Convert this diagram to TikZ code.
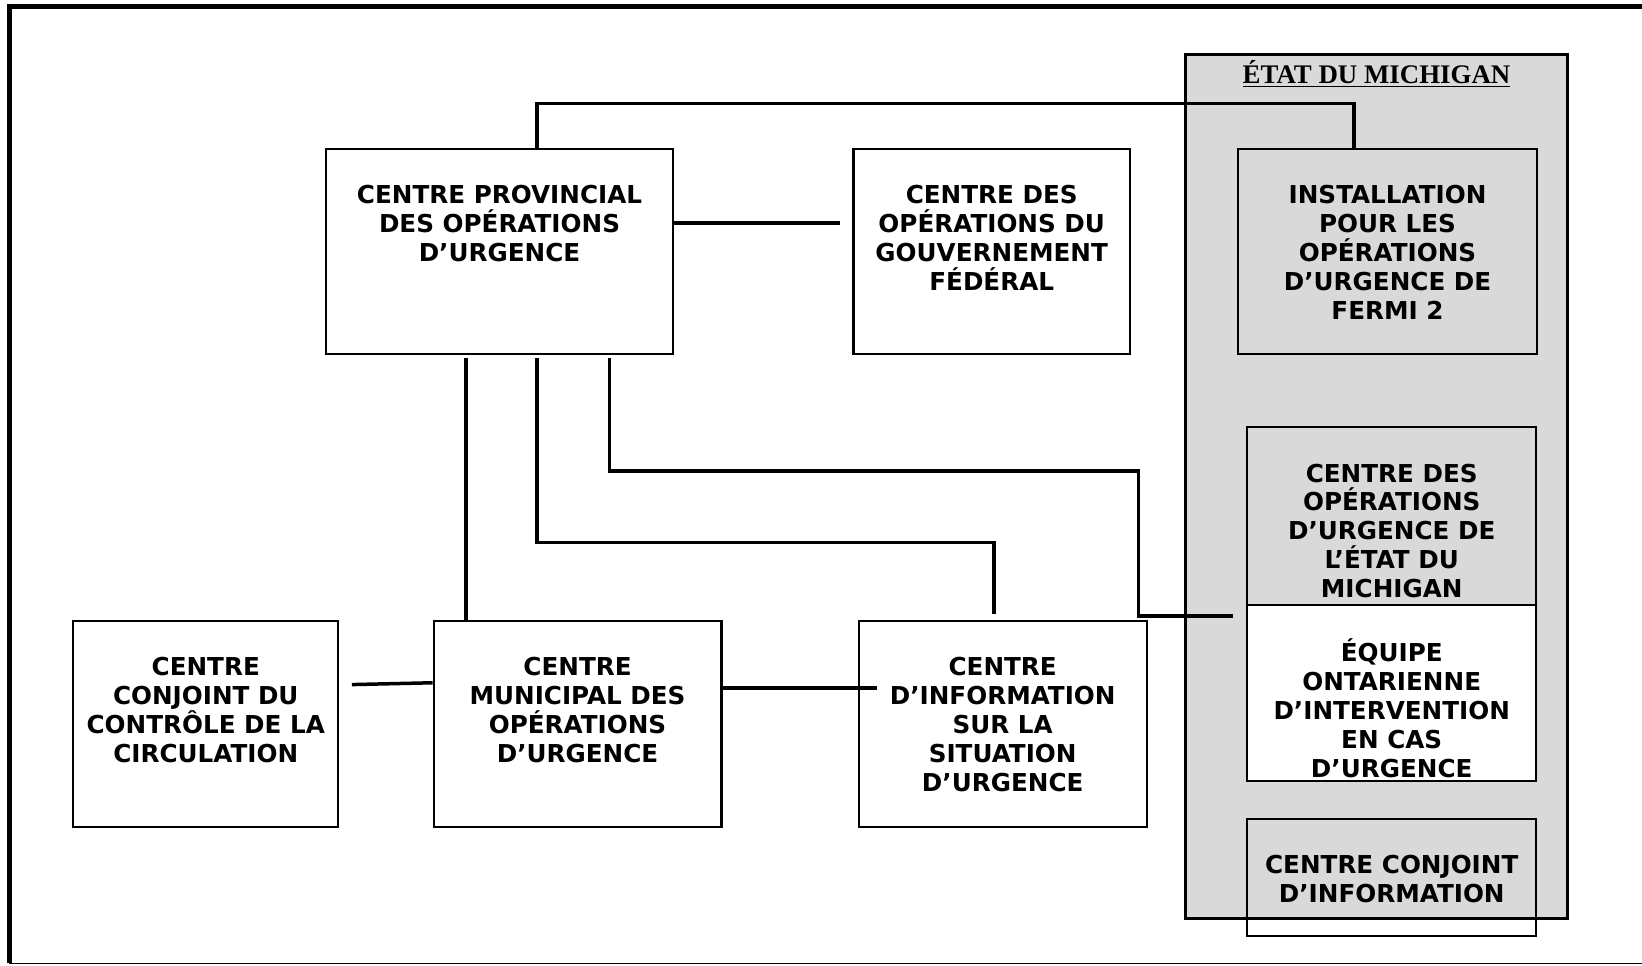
\documentclass[tikz,border=0pt]{standalone}
\usepackage{fontspec}
\newfontfamily\verdana{DejaVu Sans}
\newfontfamily\serifetat{Liberation Serif}
\definecolor{EtatGris}{HTML}{D9D9D9}

\begin{document}
\begin{tikzpicture}[x=0.02cm,y=-0.02cm,line join=miter,
  boite/.style={draw,line width=1.1pt,inner sep=0pt},
  texte/.style={font=\verdana\bfseries\fontsize{13.4}{15.7}\selectfont,align=center,inner sep=0pt,anchor=north,execute at begin node=\vphantom{É}},
  titre/.style={font=\serifetat\bfseries\fontsize{14.6}{16}\selectfont,inner sep=0pt},
  lien/.style={line width=1.9pt}]
  \useasboundingbox (0,0) rectangle (1568,922);
  % cadre
  \draw[line width=2.6pt] (1620,6) -- (9,6) -- (9,920);
  \draw[line width=0.9pt] (9,920) -- (1620,920);
  % etat du michigan
  \node[boite,line width=1.4pt,fill=EtatGris,minimum width=7.30cm,minimum height=16.50cm] (etat) at (1314.5,464.5) {};
  \node[titre,anchor=base] (titre) at ([yshift=-0.57cm]etat.north) {\underline{ÉTAT DU MICHIGAN}};
  \node[boite,minimum width=5.72cm,minimum height=3.92cm] (fermi) at (1325,240) {};
  \node[boite,minimum width=5.52cm,minimum height=3.40cm] (coum) at (1329,493) {};
  \node[boite,fill=white,minimum width=5.52cm,minimum height=3.36cm] (eoiu) at (1329,662) {};
  \node[boite,minimum width=5.52cm,minimum height=2.24cm] (cci) at (1329,838) {};
  \node[texte] (fermi-t) at ([yshift=-0.71cm]fermi.north) {INSTALLATION\\POUR LES\\OPÉRATIONS\\D’URGENCE DE\\FERMI 2};
  \node[texte] (coum-t) at ([yshift=-0.71cm]coum.north) {CENTRE DES\\OPÉRATIONS\\D’URGENCE DE\\L’ÉTAT DU\\MICHIGAN};
  \node[texte] (eoiu-t) at ([yshift=-0.65cm]eoiu.north) {ÉQUIPE\\ONTARIENNE\\D’INTERVENTION\\EN CAS\\D’URGENCE};
  \node[texte] (cci-t) at ([yshift=-0.71cm]cci.north) {CENTRE CONJOINT\\D’INFORMATION};
  % ontario
  \node[boite,minimum width=6.64cm,minimum height=3.92cm] (cpou) at (477,240) {};
  \node[boite,minimum width=5.28cm,minimum height=3.92cm] (cogf) at (947,240) {};
  \node[boite,minimum width=5.06cm,minimum height=3.94cm] (cccc) at (196.5,691.5) {};
  \node[boite,minimum width=5.50cm,minimum height=3.94cm] (cmou) at (551.5,691.5) {};
  \node[boite,minimum width=5.50cm,minimum height=3.94cm] (cisu) at (957.5,691.5) {};
  \node[texte] (cpou-t) at ([yshift=-0.71cm]cpou.north) {CENTRE PROVINCIAL\\DES OPÉRATIONS\\D’URGENCE};
  \node[texte] (cogf-t) at ([yshift=-0.71cm]cogf.north) {CENTRE DES\\OPÉRATIONS DU\\GOUVERNEMENT\\FÉDÉRAL};
  \node[texte] (cccc-t) at ([yshift=-0.71cm]cccc.north) {CENTRE\\CONJOINT DU\\CONTRÔLE DE LA\\CIRCULATION};
  \node[texte] (cmou-t) at ([yshift=-0.71cm]cmou.north) {CENTRE\\MUNICIPAL DES\\OPÉRATIONS\\D’URGENCE};
  \node[texte] (cisu-t) at ([yshift=-0.71cm]cisu.north) {CENTRE\\D’INFORMATION\\SUR LA\\SITUATION\\D’URGENCE};
  % liens
  \draw[lien] (cpou.north -| 513,0) -- (513,99) -| (fermi.north -| 1293,0);
  \draw[lien,shorten >=0.24cm] (cpou.east |- 0,213) -- (cogf.west |- 0,213);
  \draw[lien,shorten <=0.06cm] (cpou.south -| 445,0) -- (cmou.north -| 445,0);
  \draw[lien,shorten <=0.06cm,shorten >=0.12cm] (cpou.south -| 513,0) |- (949,518) -- (cisu.north -| 949,0);
  \draw[lien,shorten <=0.06cm,shorten >=0.26cm] (cpou.south -| 582,0) |- (1087,450) |- (eoiu.west |- 0,588);
  \draw[lien,shorten <=0.24cm] (cccc.east |- 0,654) -- (cmou.west |- 0,652);
  \draw[lien,shorten >=-0.36cm] (cmou.east |- 0,657) -- (cisu.west |- 0,657);
\end{tikzpicture}
\end{document}
